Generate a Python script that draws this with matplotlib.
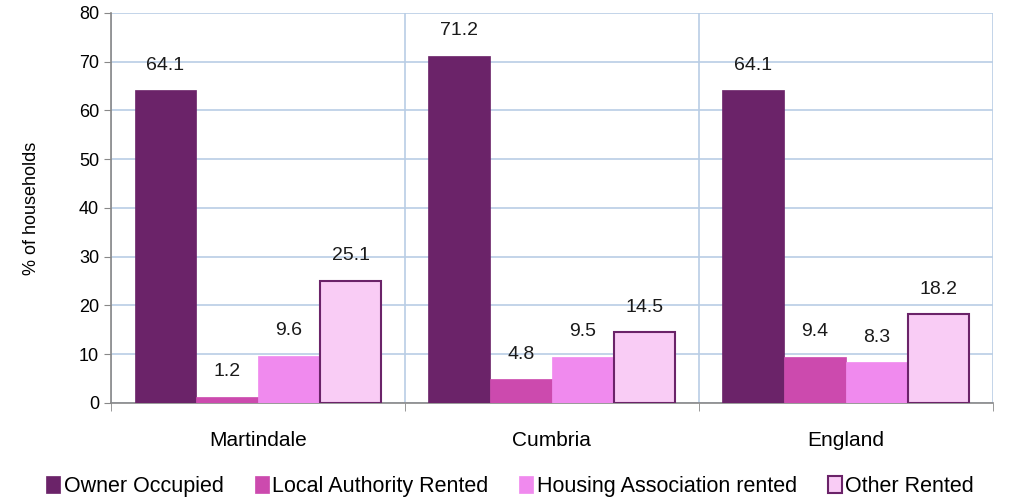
import matplotlib
matplotlib.use("Agg")
import matplotlib.pyplot as plt
import numpy as np

categories = ["Martindale", "Cumbria", "England"]
series_names = ["Owner Occupied", "Local Authority Rented", "Housing Association rented", "Other Rented"]
owner = [64.1, 71.2, 64.1]
local_auth = [1.2, 4.8, 9.4]
housing_assoc = [9.6, 9.5, 8.3]
other = [25.1, 14.5, 18.2]
yticks = [0, 10, 20, 30, 40, 50, 60, 70, 80]

colors = ["#6B2369", "#CC4AAE", "#F08AEE", "#F9CCF5"]
edges = ["#6B2369", "#CC4AAE", "#F08AEE", "#6B2369"]

plt.rcParams['font.family'] = ['Liberation Sans', 'DejaVu Sans']

fig = plt.figure(figsize=(10.09, 4.98), dpi=100)
ax = fig.add_axes([0.110, 0.191, 0.874, 0.783])

x = np.arange(len(categories))
w = 0.21
series = [owner, local_auth, housing_assoc, other]
for i, (vals, name) in enumerate(zip(series, series_names)):
    pos = x + (i - 1.5) * w
    lw = 1.5 if i == 3 else 0.5
    bars = ax.bar(pos, vals, width=w, color=colors[i], edgecolor=edges[i], linewidth=lw, label=name, zorder=3)
    for b, v in zip(bars, vals):
        ax.annotate(f"{v:.1f}", (b.get_x() + b.get_width() / 2, v), xytext=(0, 12),
                    textcoords="offset points", ha="center", va="bottom", fontsize=14, color="#1a1a1a")

ax.set_xlim(-0.5, 2.5)
ax.set_ylim(0, 80)
ax.set_yticks(yticks)
ax.set_xticks(x)
ax.set_xticklabels(categories, fontsize=15)
ax.set_xticks([-0.5, 0.5, 1.5, 2.5], minor=True)
ax.tick_params(axis='x', which='major', length=0, pad=20)
ax.tick_params(axis='x', which='minor', length=6, color="#888888", direction='out')
ax.tick_params(axis='y', labelsize=13, length=5, color="#888888")
ax.grid(axis='y', color="#B9CDE5", linewidth=1.2, zorder=0)
ax.grid(axis='x', which='minor', color="#B9CDE5", linewidth=1.2, zorder=0)
for s in ["top", "right"]:
    ax.spines[s].set_visible(False)
for s in ["left", "bottom"]:
    ax.spines[s].set_color("#888888")
    ax.spines[s].set_linewidth(1.2)
ax.set_ylabel("% of households", fontsize=13, labelpad=28)

fig.legend(loc="lower left", bbox_to_anchor=(0.045, 0.0), ncol=4, frameon=False,
           fontsize=15.5, handlelength=0.65, handleheight=0.85, handletextpad=0.15, columnspacing=1.45,
           borderaxespad=0, borderpad=0.05)

fig.savefig("out.png", dpi=100)
